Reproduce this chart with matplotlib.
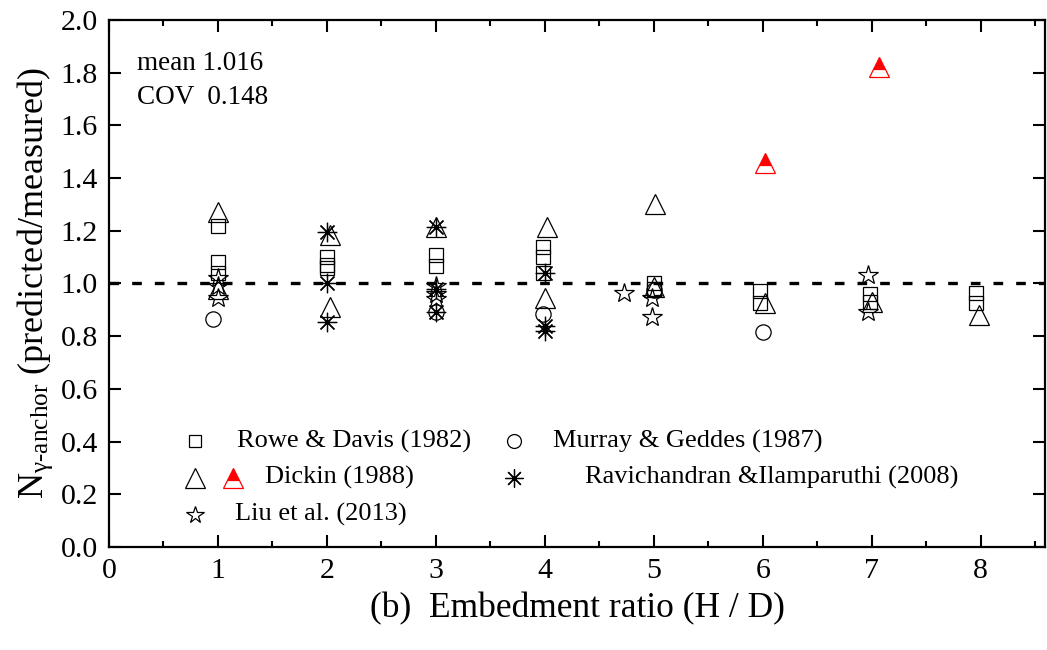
import numpy as np
import matplotlib
matplotlib.use('Agg')
import matplotlib.pyplot as plt
from matplotlib.ticker import MultipleLocator

plt.rcParams['font.family'] = ['Liberation Serif', 'DejaVu Serif']
plt.rcParams['mathtext.fontset'] = 'custom'
plt.rcParams['mathtext.rm'] = 'Liberation Serif'
plt.rcParams['mathtext.it'] = 'Liberation Serif:italic'

# data
rowe_x = [1.0, 1.0, 1.0, 2.0, 2.0, 2.0, 3.0, 3.0, 3.98, 3.98, 3.98, 5.0, 5.0, 5.97, 5.97, 6.98, 6.98, 7.96, 7.96]
rowe_y = [1.22, 1.08, 1.04, 1.10, 1.07, 1.06, 1.11, 1.065, 1.14, 1.10, 1.04, 1.0, 0.98, 0.97, 0.925, 0.96, 0.93, 0.965, 0.925]

dickin_x = [1.0, 1.0, 2.03, 2.03, 3.0, 4.02, 4.0, 5.01, 5.0, 6.02, 7.0, 7.98]
dickin_y = [1.27, 0.98, 1.185, 0.91, 1.215, 1.215, 0.945, 1.30, 0.985, 0.925, 0.93, 0.88]

dickin_red_x = [6.02, 7.07]
dickin_red_y = [1.456, 1.823]

murray_x = [0.95, 3.0, 3.98, 5.0, 6.0]
murray_y = [0.865, 0.89, 0.885, 0.975, 0.815]

ravi_x = [2.0, 2.0, 2.0, 3.0, 3.0, 3.0, 4.0, 4.0, 4.0]
ravi_y = [1.197, 1.0, 0.852, 1.215, 0.98, 0.89, 1.04, 0.84, 0.818]

liu_x = [1.0, 1.0, 1.0, 3.0, 3.0, 3.0, 4.73, 4.98, 4.98, 6.97, 6.97]
liu_y = [1.02, 0.99, 0.945, 0.99, 0.96, 0.94, 0.965, 0.945, 0.872, 1.032, 0.893]

fig = plt.figure(figsize=(10.47, 6.5), dpi=100)
ax = fig.add_axes([0.1041, 0.1585, 0.894, 0.8107])

lw = 0.9
ax.plot(rowe_x, rowe_y, 's', ms=10, mfc='none', mec='black', mew=lw, ls='none')
ax.plot(dickin_x, dickin_y, '^', ms=15, mfc='none', mec='black', mew=lw, ls='none')
ax.plot(dickin_red_x, dickin_red_y, '^', ms=15, mfc='red', mec='red', mew=lw,
        fillstyle='top', markerfacecoloralt='white', ls='none')
ax.plot(murray_x, murray_y, 'o', ms=11, mfc='none', mec='black', mew=lw, ls='none')
ax.plot(ravi_x, ravi_y, marker=(8, 2, 0), ms=14, mec='black', mew=lw, ls='none')
ax.plot(liu_x, liu_y, '*', ms=15, mfc='none', mec='black', mew=lw, ls='none')

ax.axhline(1.0, color='black', lw=2.4, ls=(0, (2.9, 3.9)))

ax.set_xlim(0, 8.59)
ax.set_ylim(0, 2.0)
ax.xaxis.set_major_locator(MultipleLocator(1))
ax.xaxis.set_minor_locator(MultipleLocator(0.5))
ax.yaxis.set_major_locator(MultipleLocator(0.2))
ax.yaxis.set_major_formatter(plt.FuncFormatter(lambda v, p: f'{v:.1f}'))
ax.tick_params(which='both', direction='in', top=True, right=True, width=1.5, labelsize=21.5)
ax.tick_params(which='major', length=8.5, pad=8)
ax.tick_params(which='minor', length=4)
for s in ax.spines.values():
    s.set_linewidth(1.6)

ax.set_xlabel('(b)  Embedment ratio (H / D)', fontsize=25.5, labelpad=6)
ax.set_ylabel('N$_{\\mathrm{γ‐anchor}}$ (predicted/measured)', fontsize=26, labelpad=4)

ax.text(0.03, 0.918, 'mean 1.016', transform=ax.transAxes, fontsize=19.5, va='center')
ax.text(0.03, 0.853, 'COV  0.148', transform=ax.transAxes, fontsize=19.5, va='center')

# hand-placed legend
tr = ax.transAxes
leg_fs = 19
ax.plot([0.092], [0.201], 's', ms=8, mfc='none', mec='black', mew=lw, transform=tr, clip_on=False)
ax.text(0.137, 0.201, 'Rowe & Davis (1982)', transform=tr, fontsize=leg_fs, va='center')
ax.plot([0.092], [0.131], '^', ms=14, mfc='none', mec='black', mew=lw, transform=tr, clip_on=False)
ax.plot([0.1325], [0.131], '^', ms=14, mfc='red', mec='red', mew=lw, fillstyle='top',
        markerfacecoloralt='white', transform=tr, clip_on=False)
ax.text(0.1667, 0.131, 'Dickin (1988)', transform=tr, fontsize=leg_fs, va='center')
ax.plot([0.092], [0.061], '*', ms=13, mfc='none', mec='black', mew=lw, transform=tr, clip_on=False)
ax.text(0.135, 0.061, 'Liu et al. (2013)', transform=tr, fontsize=leg_fs, va='center')
ax.plot([0.433], [0.201], 'o', ms=10, mfc='none', mec='black', mew=lw, transform=tr, clip_on=False)
ax.text(0.474, 0.201, 'Murray & Geddes (1987)', transform=tr, fontsize=leg_fs, va='center')
ax.plot([0.433], [0.131], marker=(8, 2, 0), ms=13, mec='black', mew=lw, transform=tr, clip_on=False)
ax.text(0.509, 0.131, 'Ravichandran &Ilamparuthi (2008)', transform=tr, fontsize=leg_fs, va='center')

fig.savefig('out.png', dpi=100)
